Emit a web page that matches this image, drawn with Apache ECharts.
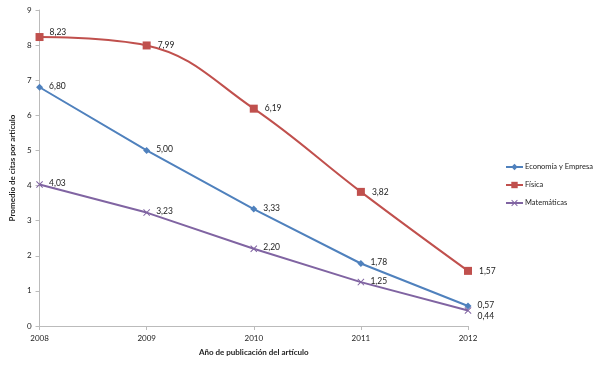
<!DOCTYPE html>
<html>
<head>
<meta charset="utf-8">
<script src="https://cdn.jsdelivr.net/npm/echarts@6/dist/echarts.min.js"></script>
<style>
  html, body { margin: 0; padding: 0; background: #fff; }
  #chart { width: 600px; height: 365px; }
</style>
</head>
<body>
<div id="chart"></div>
<script>
var years = ['2008', '2009', '2010', '2011', '2012']
var economia = [6.80, 5.00, 3.33, 1.78, 0.57]
var fisica = [8.23, 7.99, 6.19, 3.82, 1.57]
var matematicas = [4.03, 3.23, 2.20, 1.25, 0.44]

var fontFam = 'Lato, "Open Sans", sans-serif'
var crossPath = 'path://M0,1L1,0L5,4L9,0L10,1L6,5L10,9L9,10L5,6L1,10L0,9L4,5Z'

function fmt(p) {
  return p.value.toFixed(2).replace('.', ',')
}

function labelCfg(offset) {
  return {
    show: true,
    position: 'right',
    offset: offset,
    formatter: fmt,
    color: '#222',
    fontSize: 8.5,
    fontFamily: fontFam
  }
}

var chart = echarts.init(document.getElementById('chart'))
chart.setOption({
  animation: false,
  grid: {
    left: 36,
    right: 132,
    top: 10,
    bottom: 39
  },
  legend: {
    orient: 'vertical',
    left: 500,
    top: 158,
    itemGap: 10,
    itemWidth: 17,
    itemHeight: 8,
    textStyle: { fontSize: 7.5, fontFamily: fontFam, color: '#222', padding: [0, 0, 0, -3] },
    data: ['Economía y Empresa', 'Física', 'Matemáticas']
  },
  xAxis: {
    type: 'category',
    data: years,
    boundaryGap: false,
    name: 'Año de publicación del artículo',
    nameLocation: 'middle',
    nameGap: 22,
    nameTextStyle: { fontSize: 8, fontWeight: 'bold', fontFamily: fontFam, color: '#222' },
    axisLine: { lineStyle: { color: '#bbb', width: 1 } },
    axisTick: { show: true, length: 4, lineStyle: { color: '#bbb' } },
    axisLabel: { fontSize: 8, fontFamily: fontFam, color: '#222', margin: 8 },
    splitLine: { show: false }
  },
  yAxis: {
    type: 'value',
    min: 0,
    max: 9,
    interval: 1,
    name: 'Promedio de citas por artículo',
    nameLocation: 'middle',
    nameGap: 20,
    nameTextStyle: { fontSize: 8, fontWeight: 'bold', fontFamily: fontFam, color: '#222' },
    axisLine: { show: true, lineStyle: { color: '#bbb', width: 1 } },
    axisTick: { show: true, length: 4, lineStyle: { color: '#bbb' } },
    axisLabel: { fontSize: 8, fontFamily: fontFam, color: '#222', margin: 8 },
    splitLine: { show: false }
  },
  series: [
    {
      name: 'Economía y Empresa',
      type: 'line',
      data: economia,
      symbol: 'diamond',
      symbolSize: 7,
      itemStyle: { color: '#4f81bd' },
      lineStyle: { color: '#4f81bd', width: 2 },
      label: labelCfg([1, -1])
    },
    {
      name: 'Física',
      type: 'line',
      data: fisica.map(function (v, i) {
        if (i === 0) {
          return { value: v, label: { offset: [1, -5] } }
        }
        return v
      }),
      smooth: 0.4,
      symbol: 'rect',
      symbolSize: 8,
      itemStyle: { color: '#c0504d' },
      lineStyle: { color: '#c0504d', width: 2 },
      label: labelCfg([2, 0])
    },
    {
      name: 'Matemáticas',
      type: 'line',
      data: matematicas.map(function (v, i) {
        if (i === matematicas.length - 1) {
          return { value: v, label: { offset: [1, 6] } }
        }
        return v
      }),
      symbol: crossPath,
      symbolSize: 7,
      itemStyle: { color: '#8064a2' },
      lineStyle: { color: '#8064a2', width: 2 },
      label: labelCfg([1, -1])
    }
  ]
})
</script>
</body>
</html>
